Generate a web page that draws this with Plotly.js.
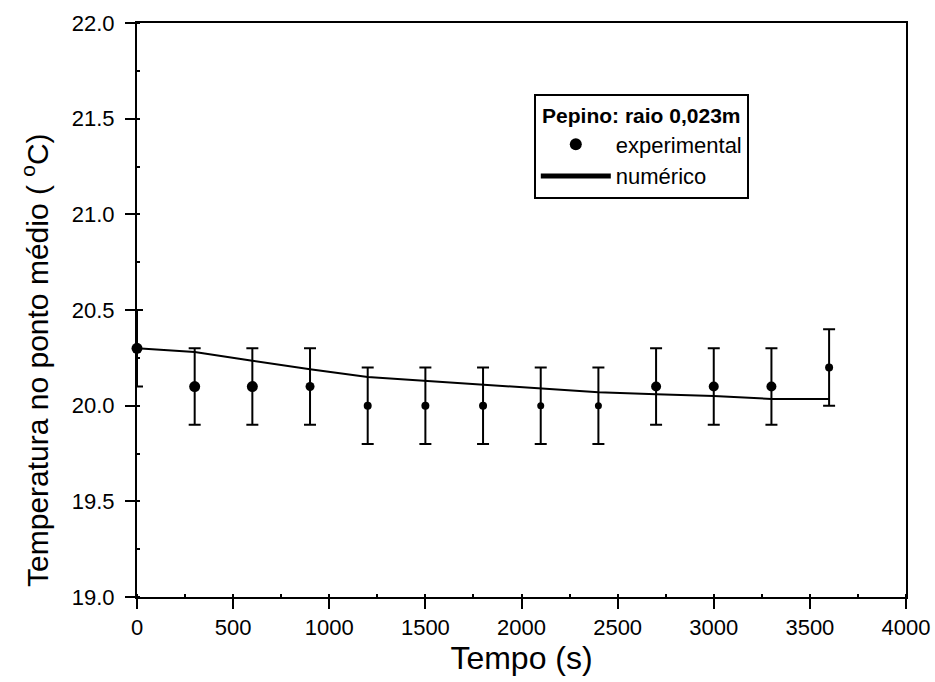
<!DOCTYPE html>
<html>
<head>
<meta charset="utf-8">
<script src="https://cdn.plot.ly/plotly-3.0.1.min.js"></script>
<style>html,body{margin:0;padding:0;background:#fff}</style>
</head>
<body>
<div id="chart" style="width:935px;height:682px"></div>
<script>
const timeExp = [0, 300, 600, 900, 1200, 1500, 1800, 2100, 2400, 2700, 3000, 3300, 3600];
const tempExp = [20.3, 20.1, 20.1, 20.1, 20.0, 20.0, 20.0, 20.0, 20.0, 20.1, 20.1, 20.1, 20.2];
const errExp  = [0.2, 0.2, 0.2, 0.2, 0.2, 0.2, 0.2, 0.2, 0.2, 0.2, 0.2, 0.2, 0.2];
const timeNum = [0, 300, 600, 900, 1200, 1500, 1800, 2100, 2400, 2700, 3000, 3300, 3600];
const tempNum = [20.30, 20.28, 20.235, 20.19, 20.15, 20.13, 20.11, 20.09, 20.07, 20.06, 20.05, 20.035, 20.035];
const legendTitle = "Pepino: raio 0,023m";
const xTitle = "Tempo (s)";
const yTitle = "Temperatura no ponto médio ( <sup>o</sup>C)";

const font = "Liberation Sans, Arial, sans-serif";

const traces = [
  {
    x: timeNum, y: tempNum, type: "scatter", mode: "lines",
    name: "numérico",
    line: {color: "#000000", width: 2},
    legendrank: 2
  },
  {
    x: timeExp, y: tempExp, type: "scatter", mode: "markers",
    name: "experimental",
    cliponaxis: false,
    marker: {color: "#000000", opacity: 1, line: {width: 0, color: "#000000"},
             size: [11, 11, 11, 9, 8, 8, 8, 7, 7, 10, 10, 10, 8]},
    error_y: {type: "data", array: errExp, visible: true, color: "#000000", thickness: 2, width: 6},
    legendrank: 1
  }
];

const layout = {
  width: 935, height: 682,
  margin: {l: 137, r: 29, t: 23, b: 85},
  paper_bgcolor: "#fff", plot_bgcolor: "#fff",
  font: {family: font, color: "#000", size: 22},
  showlegend: true,
  legend: {
    x: 0.516, y: 0.876, xanchor: "left", yanchor: "top",
    bgcolor: "#fff", bordercolor: "#000", borderwidth: 2,
    font: {family: font, size: 22, color: "#000"},
    title: {text: "<b>" + legendTitle + "</b>", side: "top center", font: {family: font, size: 21, color: "#000"}},
    itemsizing: "constant",
    itemwidth: 70,
    traceorder: "normal"
  },
  xaxis: {
    range: [0, 4000], dtick: 500, tick0: 0,
    showgrid: false, zeroline: false,
    showline: true, linecolor: "#000", linewidth: 2, mirror: true,
    ticks: "outside", ticklen: 10, tickwidth: 2, tickcolor: "#000",
    ticklabelstandoff: 0,
    minor: {dtick: 250, ticks: "inside", ticklen: 3, tickwidth: 2, tickcolor: "#000", showgrid: false},
    tickfont: {family: font, size: 22, color: "#000"},
    title: {text: xTitle, font: {family: font, size: 32, color: "#000"}, standoff: 2}
  },
  yaxis: {
    range: [19.0, 22.0], dtick: 0.5, tick0: 19,
    tickformat: ".1f",
    showgrid: false, zeroline: false,
    showline: true, linecolor: "#000", linewidth: 2, mirror: true,
    ticks: "outside", ticklen: 10, tickwidth: 2, tickcolor: "#000",
    ticklabelstandoff: 6,
    minor: {dtick: 0.25, ticks: "inside", ticklen: 3, tickwidth: 2, tickcolor: "#000", showgrid: false},
    tickfont: {family: font, size: 22, color: "#000"}
  },
  annotations: [{
    text: yTitle, textangle: -90, showarrow: false,
    xref: "paper", yref: "paper", x: -0.1326, y: 0.413,
    xanchor: "center", yanchor: "middle",
    font: {family: font, size: 30, color: "#000"}
  }]
};

Plotly.newPlot("chart", traces, layout, {displayModeBar: false, staticPlot: true});
</script>
</body>
</html>
